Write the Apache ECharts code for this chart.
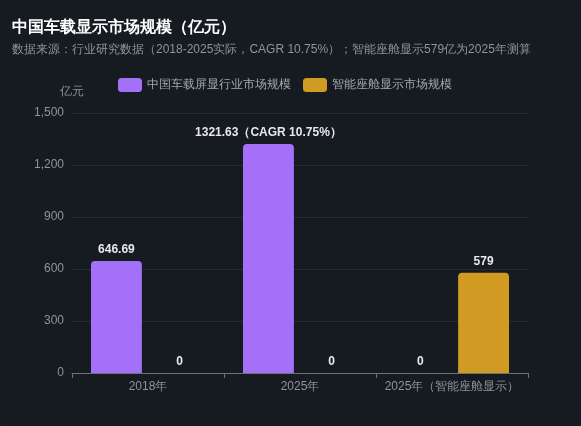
<!DOCTYPE html>
<html>
<head>
    <meta charset="utf-8">
    <title>中国车载显示市场规模</title>
    <style>
        html, body {
            margin: 0;
            padding: 0;
            height: 100%;
            background: #1a1e26;
        }
        #container {
            width: 581px;
            height: 426px;
            background: #161a21;
            border-radius: 6px;
        }
    </style>
</head>
<body>
    <div id="container"></div>
    <script src="https://cdn.jsdelivr.net/npm/echarts@6/dist/echarts.min.js"></script>
    <script type="text/javascript">
    // 数据
    var categories = ['2018年', '2025年', '2025年（智能座舱显示）'];
    var screenValues = [646.69, 1321.63, 0];   // 中国车载屏显行业市场规模
    var cockpitValues = [0, 0, 579];           // 智能座舱显示市场规模
    var yTicks = { min: 0, max: 1500, interval: 300 };

    var chart = echarts.init(document.getElementById('container'));

    var labelStyle = {
        show: true,
        position: 'top',
        color: '#e6e8eb',
        fontSize: 12,
        fontWeight: 'bold'
    };

    var option = {
        backgroundColor: 'transparent',
        title: {
            text: '中国车载显示市场规模（亿元）',
            subtext: '数据来源：行业研究数据（2018-2025实际，CAGR 10.75%）；智能座舱显示579亿为2025年测算',
            left: 7,
            top: 15,
            itemGap: 8,
            textStyle: { color: '#ffffff', fontSize: 16, fontWeight: 'bold' },
            subtextStyle: { color: '#8e939c', fontSize: 12 }
        },
        legend: {
            top: 73,
            left: 113,
            itemWidth: 24,
            itemHeight: 14,
            itemGap: 12,
            textStyle: { color: '#a3a7ae', fontSize: 12 },
            data: ['中国车载屏显行业市场规模', '智能座舱显示市场规模']
        },
        grid: { left: 72, right: 53, top: 113, bottom: 53 },
        xAxis: {
            type: 'category',
            data: categories,
            axisLine: { lineStyle: { color: '#6e7079' } },
            axisTick: { show: true, lineStyle: { color: '#6e7079' } },
            axisLabel: { color: '#8e939c', fontSize: 12, margin: 8, interval: 0 }
        },
        yAxis: {
            type: 'value',
            name: '亿元',
            nameTextStyle: { color: '#8e939c', fontSize: 12 },
            min: yTicks.min,
            max: yTicks.max,
            interval: yTicks.interval,
            axisLine: { show: false },
            axisTick: { show: false },
            axisLabel: { color: '#8e939c', fontSize: 12 },
            splitLine: { lineStyle: { color: '#262a33' } }
        },
        series: [{
            name: '中国车载屏显行业市场规模',
            type: 'bar',
            data: screenValues,
            barGap: '24%',
            barCategoryGap: '25%',
            itemStyle: { color: '#a370f7', borderRadius: [4, 4, 0, 0] },
            label: Object.assign({}, labelStyle, {
                formatter: function (p) {
                    if (p.dataIndex === 1) return p.value + '（CAGR 10.75%）';
                    return p.value;
                }
            })
        }, {
            name: '智能座舱显示市场规模',
            type: 'bar',
            data: cockpitValues,
            itemStyle: { color: '#d19a22', borderRadius: [4, 4, 0, 0] },
            label: labelStyle
        }]
    };

    chart.setOption(option);
    </script>
</body>
</html>
